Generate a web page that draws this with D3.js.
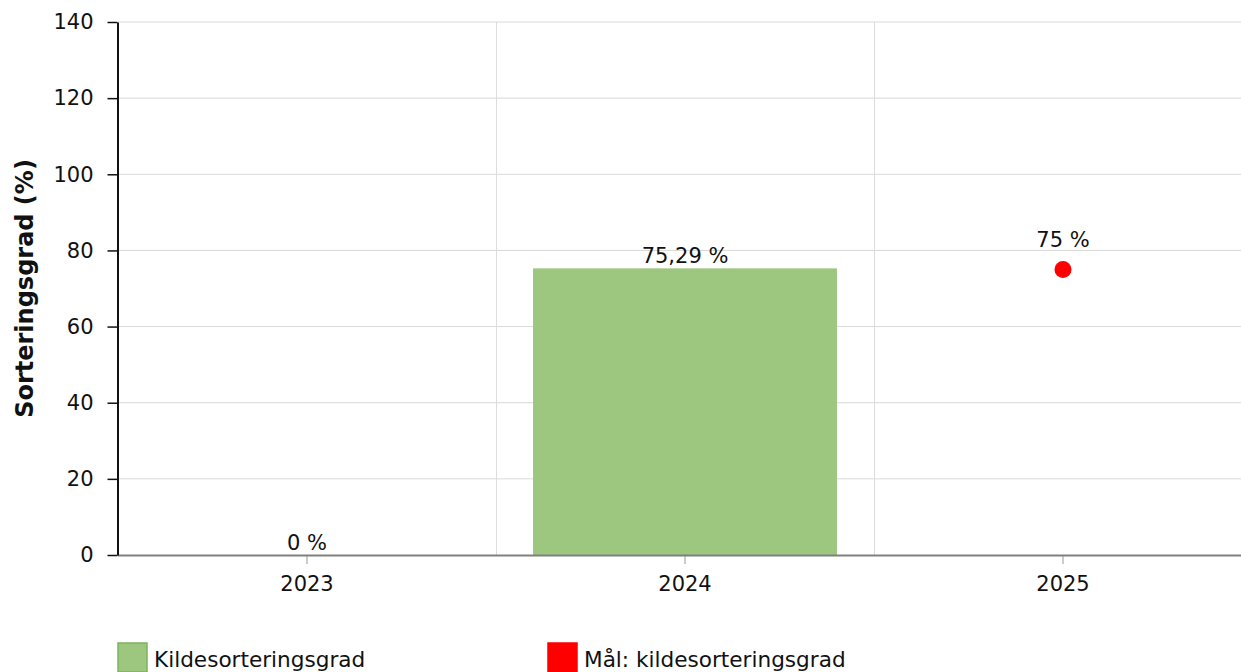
<!DOCTYPE html>
<html><head><meta charset="utf-8">
<script src="https://cdn.jsdelivr.net/npm/d3@7"></script>
<style>
html,body{margin:0;padding:0;background:#fff;overflow:hidden}
text{font-family:"DejaVu Sans",Verdana,sans-serif;fill:#111}
</style></head>
<body>
<script>
const categories = ["2023", "2024", "2025"];
const barValues = [0, 75.29, null];
const barLabels = ["0 %", "75,29 %", null];
const targetValues = [null, null, 75];
const targetLabels = [null, null, "75 %"];
const yTicks = [0, 20, 40, 60, 80, 100, 120, 140];
const seriesNames = ["Kildesorteringsgrad", "Mål: kildesorteringsgrad"];
const yTitle = "Sorteringsgrad (%)";

const W = 1241, H = 672;
const m = {left: 118, top: 22, bottom: 555, right: 1252};
const svg = d3.select("body").append("svg").attr("width", W).attr("height", H);

const x = d3.scaleBand().domain(categories).range([m.left, m.right]).paddingInner(0).paddingOuter(0);
const y = d3.scaleLinear().domain([0, 140]).range([m.bottom, m.top]);
const fs = 21;

// horizontal grid
svg.append("g").selectAll("line").data(yTicks.filter(d => d > 0)).join("line")
  .attr("x1", m.left).attr("x2", W).attr("y1", d => y(d)).attr("y2", d => y(d))
  .attr("stroke", "#d9d9d9").attr("stroke-width", 1);
// vertical grid at band boundaries
svg.append("g").selectAll("line").data(categories.slice(1)).join("line")
  .attr("x1", d => Math.round(x(d)) + 0.5).attr("x2", d => Math.round(x(d)) + 0.5)
  .attr("y1", m.top).attr("y2", m.bottom)
  .attr("stroke", "#dcdcdc").attr("stroke-width", 1);

// bars
const bw = x.bandwidth() * 0.804;
svg.append("g").selectAll("rect").data(categories.map((c, i) => ({c, v: barValues[i]})).filter(d => d.v)).join("rect")
  .attr("x", d => x(d.c) + (x.bandwidth() - bw) / 2)
  .attr("width", bw)
  .attr("y", d => y(d.v)).attr("height", d => y(0) - y(d.v))
  .attr("fill", "#9dc67f");

// bar labels
svg.append("g").selectAll("text").data(categories.map((c, i) => ({c, v: barValues[i], l: barLabels[i]})).filter(d => d.l)).join("text")
  .attr("x", d => x(d.c) + x.bandwidth() / 2).attr("y", d => y(d.v) - 5)
  .attr("text-anchor", "middle").style("font-size", fs + "px").text(d => d.l);

// target points
const tp = categories.map((c, i) => ({c, v: targetValues[i], l: targetLabels[i]})).filter(d => d.v != null);
svg.append("g").selectAll("circle").data(tp).join("circle")
  .attr("cx", d => x(d.c) + x.bandwidth() / 2).attr("cy", d => y(d.v)).attr("r", 8.5).attr("fill", "#ff0000");
svg.append("g").selectAll("text").data(tp).join("text")
  .attr("x", d => x(d.c) + x.bandwidth() / 2).attr("y", d => y(d.v) - 22)
  .attr("text-anchor", "middle").style("font-size", fs + "px").text(d => d.l);

// x axis
const xa = svg.append("g").attr("transform", `translate(0,${m.bottom})`)
  .call(d3.axisBottom(x).tickSize(9).tickPadding(12));
xa.select(".domain").remove();
xa.selectAll(".tick line").attr("stroke", "#999");
xa.selectAll(".tick text").style("font-size", fs + "px").attr("fill", "#111");
svg.append("line").attr("x1", m.left).attr("x2", W).attr("y1", m.bottom + 0.5).attr("y2", m.bottom + 0.5)
  .attr("stroke", "#808080").attr("stroke-width", 2);

// y axis
const ya = svg.append("g").attr("transform", `translate(${m.left - 0.5},0)`)
  .call(d3.axisLeft(y).tickValues(yTicks).tickSize(10).tickPadding(14).tickSizeOuter(0));
ya.select(".domain").attr("stroke", "#111").attr("stroke-width", 2);
ya.selectAll(".tick line").attr("stroke", "#111").attr("stroke-width", 1.5);
ya.selectAll(".tick text").style("font-size", fs + "px").attr("fill", "#111");

// y title
svg.append("text").attr("transform", `translate(33,${(m.top + m.bottom) / 2}) rotate(-90)`)
  .attr("text-anchor", "middle").style("font-size", "24px").attr("font-weight", "bold").text(yTitle);

// legend
const lg = svg.append("g");
const legendX = [117, 547];
const legendColors = [["#9dc67f", "#7db35c"], ["#ff0000", "#ff0000"]];
seriesNames.forEach((n, i) => {
  lg.append("rect").attr("x", legendX[i] + 1).attr("y", 643).attr("width", 29).attr("height", 29)
    .attr("fill", legendColors[i][0]).attr("stroke", legendColors[i][1]).attr("stroke-width", 1.5);
  lg.append("text").attr("x", legendX[i] + 37).attr("y", 667).style("font-size", "21.6px").text(n);
});
</script>
</body></html>
